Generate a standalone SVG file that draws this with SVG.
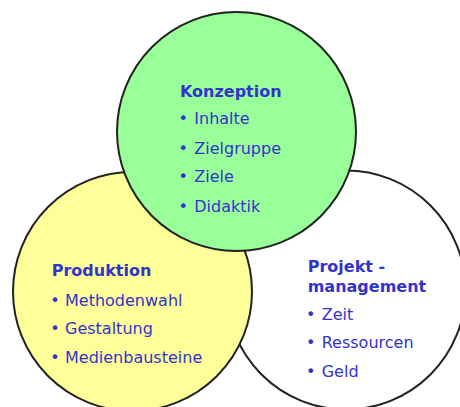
<svg xmlns="http://www.w3.org/2000/svg" width="460" height="407" viewBox="0 0 460 407">
  <style>
    .c { stroke: #222222; stroke-width: 2; }
    .t { font-family: "DejaVu Sans", Verdana, sans-serif; font-size: 16px; fill: #3333cc; }
    .h { font-weight: bold; }
  </style>
  <rect width="460" height="407" fill="#ffffff"/>
  <g id="projektmanagement">
    <circle class="c" cx="346" cy="290" r="119.5" fill="#ffffff"/>
    <text class="t h" x="307.7" y="271.7">Projekt -</text>
    <text class="t h" x="307.7" y="291.7">management</text>
    <text class="t" y="320"><tspan x="306">•</tspan><tspan x="321.7">Zeit</tspan></text>
    <text class="t" y="347.7"><tspan x="306">•</tspan><tspan x="321.7">Ressourcen</tspan></text>
    <text class="t" y="377.3"><tspan x="306">•</tspan><tspan x="321.7">Geld</tspan></text>
  </g>
  <g id="produktion">
    <circle class="c" cx="132.5" cy="291.5" r="119.5" fill="#ffff99"/>
    <text class="t h" x="51.7" y="275.7">Produktion</text>
    <text class="t" y="305.7"><tspan x="50.3">•</tspan><tspan x="65">Methodenwahl</tspan></text>
    <text class="t" y="334"><tspan x="50.3">•</tspan><tspan x="65">Gestaltung</tspan></text>
    <text class="t" y="363.3"><tspan x="50.3">•</tspan><tspan x="65">Medienbausteine</tspan></text>
  </g>
  <g id="konzeption">
    <circle class="c" cx="236.5" cy="131.5" r="119.5" fill="#99ff99"/>
    <text class="t h" x="180" y="96.7">Konzeption</text>
    <text class="t" y="124"><tspan x="178.6">•</tspan><tspan x="194.3">Inhalte</tspan></text>
    <text class="t" y="154.3"><tspan x="178.6">•</tspan><tspan x="194.3">Zielgruppe</tspan></text>
    <text class="t" y="182"><tspan x="178.6">•</tspan><tspan x="194.3">Ziele</tspan></text>
    <text class="t" y="211.7"><tspan x="178.6">•</tspan><tspan x="194.3">Didaktik</tspan></text>
  </g>
</svg>
